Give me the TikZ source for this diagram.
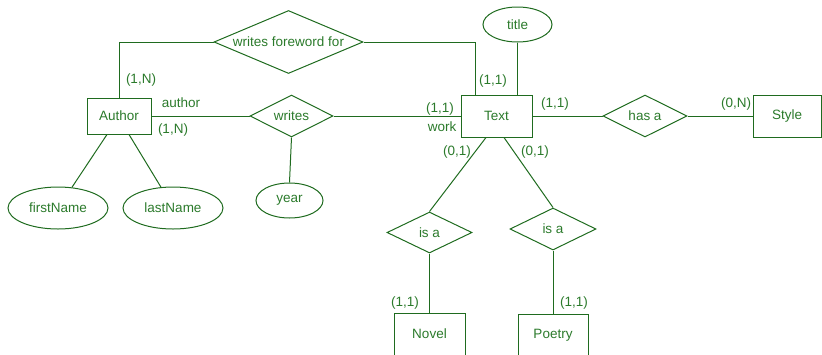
\documentclass[tikz,border=0pt]{standalone}
\usepackage{fontspec}
\setmainfont{Liberation Sans}
\usetikzlibrary{shapes.geometric}
\definecolor{ln}{HTML}{1F6B1F}
\definecolor{tx}{HTML}{2B7A2B}
\begin{document}
\begin{tikzpicture}[x=1pt,y=-1pt,
  every node/.style={font=\fontsize{13.5}{15}\selectfont, text=tx},
  ent/.style={draw=ln, line width=1pt, rectangle, inner sep=0pt, minimum height=42pt},
  rel/.style={draw=ln, line width=1pt, diamond, inner sep=0pt},
  att/.style={draw=ln, line width=1pt, ellipse, inner sep=0pt},
  conn/.style={draw=ln, line width=1pt},
  card/.style={inner sep=0pt}]
\useasboundingbox (0,0) rectangle (822,354);
% entities
\node[ent, minimum width=64pt, minimum height=36pt] (author) at (119,116) {Author};
\node[ent, minimum width=71pt] (text) at (496.5,116) {Text};
\node[ent, minimum width=68pt] (style) at (787,116) {Style};
\node[ent, minimum width=71pt] (novel) at (429.5,334) {Novel};
\node[ent, minimum width=70pt] (poetry) at (553,335) {Poetry};
% relationships
\node[rel, minimum width=149pt, minimum height=63pt, label={center:writes foreword for}] (wff) at (288.5,42) {};
\node[rel, minimum width=83pt, minimum height=42pt, label={center:writes}] (writes) at (291.5,116) {};
\node[rel, minimum width=84pt, minimum height=42pt, label={center:has a}] (hasa) at (645,116) {};
\node[rel, minimum width=85pt, minimum height=41pt, label={center:is a}] (isa1) at (429.5,232.5) {};
\node[rel, minimum width=86pt, minimum height=42pt, label={center:is a}] (isa2) at (553,229) {};
% attributes
\node[att, minimum width=69pt, minimum height=35pt, label={center:title}] (title) at (517.5,24.5) {};
\node[att, minimum width=100pt, minimum height=42pt, label={center:firstName}] (fn) at (58,208) {};
\node[att, minimum width=100pt, minimum height=42pt, label={center:lastName}] (lnm) at (173,208) {};
\node[att, minimum width=67pt, minimum height=35pt, label={center:year}] (year) at (289.5,200.5) {};
% connectors
\draw[conn] (author.north) |- (wff.west);
\draw[conn] (wff.east) -| ([xshift=-21.5pt]text.north);
\draw[conn] (title.south) -- (title.south |- text.north);
\draw[conn] (author.east) -- (writes.west);
\draw[conn] (writes.east) -- (text.west);
\draw[conn] (writes.south) -- (year.north);
\draw[conn] (text.east) -- (hasa.west);
\draw[conn] (hasa.east) -- (style.west);
\draw[conn] ([xshift=-10.5pt]text.south) -- (isa1.north);
\draw[conn] ([xshift=7.5pt]text.south) -- (isa2.north);
\draw[conn] (isa1.south) -- (novel.north);
\draw[conn] (isa2.south) -- (poetry.north);
\draw[conn] ([xshift=-12pt]author.south) -- (fn.56);
\draw[conn] ([xshift=10pt]author.south) -- (lnm.120);
% labels
\node[card] (c1) at (141,80) {(1,N)};
\node[card] (c2) at (181,103) {author};
\node[card] (c3) at (173,130) {(1,N)};
\node[card] (c4) at (493,81) {(1,1)};
\node[card] (c5) at (440,109) {(1,1)};
\node[card] (c6) at (442,127) {work};
\node[card] (c7) at (457,152) {(0,1)};
\node[card] (c8) at (535,152) {(0,1)};
\node[card] (c9) at (555,104) {(1,1)};
\node[card] (c10) at (736,104) {(0,N)};
\node[card] (c11) at (405,303) {(1,1)};
\node[card] (c12) at (574,303) {(1,1)};
\end{tikzpicture}
\end{document}
